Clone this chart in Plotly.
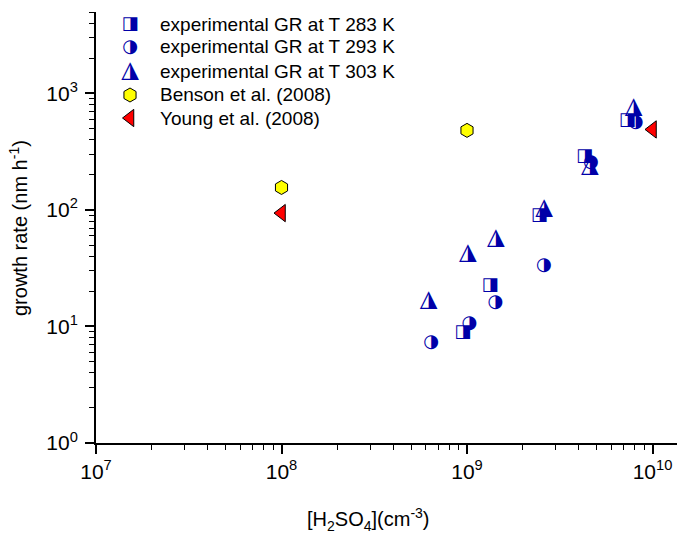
import plotly.graph_objects as go
import numpy as np

# ---- data ----
t283_x = [9.5e8, 1.33e9, 2.45e9, 4.3e9, 7.3e9]
t283_y = [8.9, 22.6, 90, 285, 587]
t293_x = [6.4e8, 1.03e9, 1.42e9, 2.6e9, 4.65e9, 8.1e9]
t293_y = [7.3, 10.7, 16.2, 33.5, 256, 564]
t303_x = [6.2e8, 1.01e9, 1.43e9, 2.6e9, 4.6e9, 7.9e9]
t303_y = [16.8, 42.5, 57, 103, 237, 758]
benson_x = [1e8, 1e9]
benson_y = [156, 482]
young_x = [1e8, 1e10]
young_y = [94, 491]

legend_labels = ["experimental GR at T 283 K", "experimental GR at T 293 K",
                 "experimental GR at T 303 K", "Benson et al. (2008)", "Young et al. (2008)"]
x_tick_vals = [1e7, 1e8, 1e9, 1e10]
x_tick_text = ["10<sup>7</sup>", "10<sup>8</sup>", "10<sup>9</sup>", "10<sup>10</sup>"]
y_tick_vals = [1, 10, 100, 1000]
y_tick_text = ["10<sup>0</sup>", "10<sup>1</sup>", "10<sup>2</sup>", "10<sup>3</sup>"]

BLUE = "#0000A8"
GLYPH_FONT = "DejaVu Sans"
FONT = "Liberation Sans, Arial"
W, H = 677, 535
L, R, T, B = 96, 0, 12, 92
PW, PH = W - L - R, H - T - B

def px(xp):
    return (xp - L) / PW

def py(yp):
    return (H - B - yp) / PH

SQ, CI, TR = ("\u25E8", 18), ("\u25D1", 18), ("\u25EE", 23)

fig = go.Figure()

def glyph_trace(x, y, g, xaxis="x", yaxis="y"):
    ch, size = g
    return go.Scatter(x=x, y=y, mode="text", text=[ch] * len(x),
                      textposition="middle center",
                      textfont=dict(family=GLYPH_FONT, size=size, color=BLUE),
                      showlegend=False, hoverinfo="skip", xaxis=xaxis, yaxis=yaxis)

hex_marker = dict(symbol="hexagon", size=14, color="#FFFF00", line=dict(color="black", width=1))
tri_marker = dict(symbol="triangle-left", size=15, color="#FF0000", line=dict(color="black", width=1))

fig.add_trace(glyph_trace(t283_x, t283_y, SQ))
fig.add_trace(glyph_trace(t293_x, t293_y, CI))
fig.add_trace(glyph_trace(t303_x, t303_y, TR))
fig.add_trace(go.Scatter(x=benson_x, y=benson_y, mode="markers", marker=hex_marker,
                         showlegend=False))
fig.add_trace(go.Scatter(x=young_x, y=young_y, mode="markers", marker=tri_marker,
                         showlegend=False))

# ---- legend on an overlay axis in pixel units ----
rows = [24, 47, 71, 95, 118]
sym_x = 130
fig.add_trace(glyph_trace([sym_x], [rows[0]], SQ, "x2", "y2"))
fig.add_trace(glyph_trace([sym_x], [rows[1]], CI, "x2", "y2"))
fig.add_trace(glyph_trace([sym_x], [rows[2]], TR, "x2", "y2"))
fig.add_trace(go.Scatter(x=[sym_x], y=[rows[3]], mode="markers", xaxis="x2", yaxis="y2",
                         marker=hex_marker, showlegend=False, hoverinfo="skip"))
fig.add_trace(go.Scatter(x=[sym_x], y=[rows[4]], mode="markers", xaxis="x2", yaxis="y2",
                         marker=tri_marker, showlegend=False, hoverinfo="skip"))
for lab, r in zip(legend_labels, rows):
    fig.add_annotation(x=px(158), y=py(r), xref="paper", yref="paper", text=lab,
                       showarrow=False, xanchor="left", yanchor="middle",
                       font=dict(family=FONT, size=19, color="black"))

# axis titles as annotations (pixel placement)
fig.add_annotation(x=px(368), y=py(519), xref="paper", yref="paper",
                   yanchor="middle", xanchor="center",
                   text="[H<sub>2</sub>SO<sub>4</sub>](cm<sup>-3</sup>)", showarrow=False,
                   font=dict(family=FONT, size=20, color="black"))
fig.add_annotation(x=px(18), y=py(228), xref="paper", yref="paper",
                   yanchor="middle", xanchor="center",
                   text="growth rate (nm h<sup>-1</sup>)", showarrow=False, textangle=-90,
                   font=dict(family=FONT, size=20, color="black"))

axis_common = dict(type="log", showgrid=False, zeroline=False, showline=True,
                   linecolor="black", linewidth=2, ticks="outside", ticklen=9,
                   tickwidth=1.5, tickcolor="black", tickmode="array",
                   tickfont=dict(family=FONT, size=21, color="black"),
                   minor=dict(ticks="outside", ticklen=5, tickwidth=1.2,
                              tickcolor="black", dtick="D1", showgrid=False))

x_max = 7 + PW / 185.5
fig.update_layout(
    width=W, height=H, margin=dict(l=L, r=R, t=T, b=B),
    paper_bgcolor="white", plot_bgcolor="white", showlegend=False,
    font=dict(family=FONT, color="black"),
    xaxis=dict(axis_common, range=[7, x_max], tickvals=x_tick_vals, ticktext=x_tick_text),
    yaxis=dict(axis_common, range=[0, np.log10(5000)], tickvals=y_tick_vals,
               ticktext=y_tick_text, ticklabelstandoff=3),
    xaxis2=dict(overlaying="x", range=[L, W - R], visible=False, fixedrange=True),
    yaxis2=dict(overlaying="y", range=[H - B, T], visible=False, fixedrange=True),
)

fig.write_html("out.html")
